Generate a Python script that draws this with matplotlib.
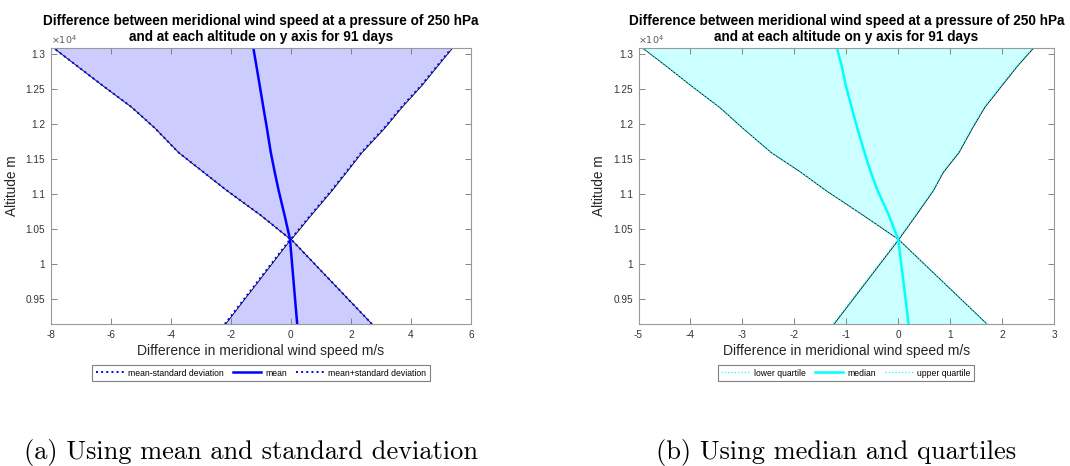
import matplotlib
matplotlib.use("Agg")
import matplotlib.pyplot as plt
from matplotlib.ticker import FixedLocator, FixedFormatter

plt.rcParams['font.family'] = ['Liberation Sans', 'DejaVu Sans']
plt.rcParams['axes.unicode_minus'] = False

# ---- data ----
altitude = [9147, 10360, 10700, 11060, 11320, 11600, 11950, 12250, 12560, 12840, 13090]

mean_minus_std = [-2.20, -0.02, -1.00, -2.15, -2.92, -3.75, -4.54, -5.32, -6.29, -7.14, -7.90]
mean_vals      = [0.21, -0.03, -0.21, -0.41, -0.54, -0.67, -0.80, -0.92, -1.04, -1.15, -1.25]
mean_plus_std  = [2.70, 0.00, 0.65, 1.36, 1.84, 2.35, 3.11, 3.69, 4.35, 4.88, 5.36]

lower_quartile = [-1.25, 0.00, -0.67, -1.40, -1.88, -2.45, -3.00, -3.45, -4.00, -4.48, -4.92]
median_vals    = [0.20, 0.00, -0.18, -0.40, -0.53, -0.65, -0.79, -0.90, -1.01, -1.09, -1.18]
upper_quartile = [1.71, 0.00, 0.33, 0.67, 0.86, 1.16, 1.42, 1.66, 1.99, 2.29, 2.59]

xticks_a = [-8, -6, -4, -2, 0, 2, 4, 6]
xticks_b = [-5, -4, -3, -2, -1, 0, 1, 2, 3]
yticks = [9500, 10000, 10500, 11000, 11500, 12000, 12500, 13000]
ytick_labels = ['0.95', '1', '1.05', '1.1', '1.15', '1.2', '1.25', '1.3']

title_lines = ["Difference between meridional wind speed at a pressure of 250 hPa",
               "and at each altitude on y axis for 91 days"]
xlabel = "Difference in meridional wind speed m/s"
ylabel = "Altitude m"

W, H = 1070, 466
fig = plt.figure(figsize=(W / 100, H / 100), dpi=100)

def px_axes(x0, x1, y0, y1):
    return fig.add_axes([x0 / W, 1 - y1 / H, (x1 - x0) / W, (y1 - y0) / H])

ax1 = px_axes(50.7, 471, 48, 324)
ax2 = px_axes(638.5, 1054, 48, 324)

def style(ax, xticks, xlim):
    ax.set_xlim(*xlim)
    ax.set_ylim(min(altitude), max(altitude))
    ax.xaxis.set_major_locator(FixedLocator(xticks))
    ax.set_xticklabels([str(v) for v in xticks])
    ax.yaxis.set_major_locator(FixedLocator(yticks))
    ax.yaxis.set_major_formatter(FixedFormatter(ytick_labels))
    ax.tick_params(direction='in', top=True, right=True, length=4, width=0.6,
                   color='0.45', labelsize=7.2, labelcolor='0.2', pad=4)
    for s in ax.spines.values():
        s.set_color('0.6')
        s.set_linewidth(0.8)
    ax.set_xlabel(xlabel, fontsize=10, color='0.15', labelpad=3)
    ax.set_ylabel(ylabel, fontsize=9.8, color='0.15', labelpad=5)
    bb = ax.get_position()
    cx = (bb.x0 + bb.x1) / 2
    fig.text(cx, 1 - 21.5 / H, title_lines[0], fontsize=9.8, fontweight='bold',
             ha='center', va='center')
    fig.text(cx, 1 - 37.5 / H, title_lines[1], fontsize=9.8, fontweight='bold',
             ha='center', va='center')
    ax.text(0.0, 1.006, r'$\times10^4$', transform=ax.transAxes, fontsize=6.8,
            color='0.35', ha='left', va='bottom')

# panel a
ax1.fill_betweenx(altitude, mean_minus_std, mean_plus_std, facecolor=(0.8, 0.8, 1.0),
                  edgecolor='k', linewidth=0.6)
ax1.plot(mean_minus_std, altitude, ':', color='#0000ff', lw=1.4, label='mean-standard deviation')
ax1.plot(mean_vals, altitude, '-', color='#0000ff', lw=1.8, label='mean')
ax1.plot(mean_plus_std, altitude, ':', color='#0000ff', lw=1.4, label='mean+standard deviation')
style(ax1, xticks_a, (-8, 6))

# panel b
ax2.fill_betweenx(altitude, lower_quartile, upper_quartile, facecolor=(0.8, 1.0, 1.0),
                  edgecolor='k', linewidth=0.6)
ax2.plot(lower_quartile, altitude, ':', color='#00ffff', lw=0.9, label='lower quartile')
ax2.plot(median_vals, altitude, '-', color='#00ffff', lw=1.8, label='median')
ax2.plot(upper_quartile, altitude, ':', color='#00ffff', lw=0.9, label='upper quartile')
style(ax2, xticks_b, (-5, 3))

def legend(ax, cx):
    leg = fig.legend(*ax.get_legend_handles_labels(), ncol=3, loc='center',
                     bbox_to_anchor=(cx / W, 1 - 373 / H), fontsize=6.2,
                     frameon=True, fancybox=False, edgecolor='0.5', framealpha=1,
                     handlelength=3.3, handletextpad=0.5, columnspacing=1.0,
                     borderpad=0.4)
    leg.get_frame().set_linewidth(0.8)
    return leg

legend(ax1, 261)
legend(ax2, 846)

fig.text(251 / W, 1 - 452 / H, "(a) Using mean and standard deviation",
         family='cmr10', fontsize=19, ha='center', va='center')
fig.text(836.5 / W, 1 - 452 / H, "(b) Using median and quartiles",
         family='cmr10', fontsize=19, ha='center', va='center')

fig.savefig('out.png', dpi=100)
